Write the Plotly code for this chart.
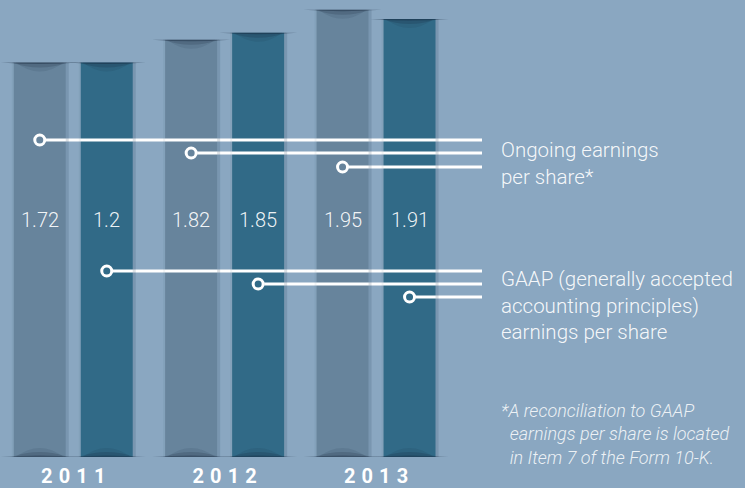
import plotly.graph_objects as go

# ---------------- data ----------------
years = ["2011", "2012", "2013"]
ongoing_eps = [1.72, 1.82, 1.95]          # grey bars / labels
gaap_eps_labels = ["1.2", "1.85", "1.91"]  # labels printed on teal bars
gaap_bar_heights = [1.72, 1.85, 1.91]      # teal bar heights as drawn
ongoing_labels = ["1.72", "1.82", "1.95"]

legend_ongoing = "Ongoing earnings<br>per share*"
legend_gaap = "GAAP (generally accepted<br>accounting principles)<br>earnings per share"
footnote = "*A reconciliation to GAAP<br>  earnings per share is located<br>  in Item 7 of the Form 10-K."

# ---------------- style / layout constants ----------------
W, H = 745, 488
PLOT_H = 457
BG = "#8aa7c1"
GREY = "#67849c"
TEAL = "#316a87"
TXT = "rgba(255,255,255,0.93)"
FONT = "Roboto"

X0PX, PITCH = 73.25, 151.4     # px of first group centre, px per group
PXU = 229.3                    # px per EPS unit
def xd(px):   # pixel -> x data
    return (px - X0PX) / PITCH
def yd(py):   # pixel -> y data
    return (PLOT_H - py) / PXU
PX = 1 / PITCH                 # one pixel in x data units
PY = 1 / PXU                   # one pixel in y data units

OFF = 33.5 * PX
BW = 52 * PX
idx = list(range(len(years)))
x_on = [i - OFF for i in idx]
x_ga = [i + OFF for i in idx]

fig = go.Figure()
fig.add_trace(go.Bar(x=x_on, y=ongoing_eps, width=BW, marker=dict(color=GREY, line=dict(width=0)),
                     hoverinfo="skip", showlegend=False))
fig.add_trace(go.Bar(x=x_ga, y=gaap_bar_heights, width=BW, marker=dict(color=TEAL, line=dict(width=0)),
                     hoverinfo="skip", showlegend=False))

shapes = []
def half_ell(cx, y0, a, depth, sign, col):
    return dict(type="path", xref="x", yref="y", layer="above",
                path=f"M {cx-a},{y0} Q {cx},{y0 + sign*2*depth} {cx+a},{y0} Z",
                fillcolor=col, line=dict(width=0))

for xs, ys in ((x_on, ongoing_eps), (x_ga, gaap_bar_heights)):
    for cx, top in zip(xs, ys):
        hw = BW / 2
        # side shadows
        shapes.append(dict(type="rect", xref="x", yref="y", layer="above",
                           x0=cx + hw, x1=cx + hw + 3 * PX, y0=0, y1=top,
                           fillcolor="rgba(40,60,85,0.16)", line=dict(width=0)))
        shapes.append(dict(type="rect", xref="x", yref="y", layer="above",
                           x0=cx - hw - 2 * PX, x1=cx - hw, y0=0, y1=top,
                           fillcolor="rgba(40,60,85,0.06)", line=dict(width=0)))
        # top shadow (below top edge)
        shapes.append(half_ell(cx, top, hw + 13 * PX, 1.5 * PY, -1, "rgba(20,35,55,0.40)"))
        shapes.append(half_ell(cx, top, hw + 2 * PX, 5 * PY, -1, "rgba(20,35,55,0.18)"))
        shapes.append(half_ell(cx, top, hw - 2 * PX, 9 * PY, -1, "rgba(20,35,55,0.10)"))
        # bottom shadow
        shapes.append(half_ell(cx, 0, hw + 13 * PX, 1.5 * PY, 1, "rgba(20,35,55,0.35)"))
        shapes.append(half_ell(cx, 0, hw + 2 * PX, 5 * PY, 1, "rgba(20,35,55,0.18)"))
        shapes.append(half_ell(cx, 0, hw - 2 * PX, 9 * PY, 1, "rgba(20,35,55,0.10)"))

# connector lines
LINE_END = xd(482)
R = 6 * PX
ong_line_px = [140, 153, 167]
gaap_line_px = [271, 284, 297]
for xs, lys in ((x_on, ong_line_px), (x_ga, gaap_line_px)):
    for cx, lp in zip(xs, lys):
        fig.add_trace(go.Scatter(x=[cx + R, LINE_END], y=[yd(lp), yd(lp)], mode="lines",
                                 line=dict(color="white", width=3), hoverinfo="skip", showlegend=False))
    fig.add_trace(go.Scatter(x=xs, y=[yd(p) for p in lys], mode="markers",
                             marker=dict(symbol="circle-open", size=10, color="white",
                                         line=dict(width=3, color="white")),
                             hoverinfo="skip", showlegend=False))

annotations = []
LABEL_Y = yd(220)
for cx, t in zip(x_on, ongoing_labels):
    annotations.append(dict(x=cx, y=LABEL_Y, xref="x", yref="y", text=t, showarrow=False,
                            font=dict(family=FONT, size=20, color=TXT, weight=300)))
for cx, t in zip(x_ga, gaap_eps_labels):
    annotations.append(dict(x=cx, y=LABEL_Y, xref="x", yref="y", text=t, showarrow=False,
                            font=dict(family=FONT, size=20, color=TXT, weight=300)))

annotations.append(dict(x=499 / W, y=1 - 163.5 / PLOT_H, xref="paper", yref="paper",
                        xanchor="left", yanchor="middle", align="left", showarrow=False,
                        text=legend_ongoing, font=dict(family=FONT, size=20.5, color=TXT, weight=300)))
annotations.append(dict(x=499 / W, y=1 - 305.5 / PLOT_H, xref="paper", yref="paper",
                        xanchor="left", yanchor="middle", align="left", showarrow=False,
                        text=legend_gaap, font=dict(family=FONT, size=20.5, color=TXT, weight=300)))
annotations.append(dict(x=499 / W, y=1 - 434 / PLOT_H, xref="paper", yref="paper",
                        xanchor="left", yanchor="middle", align="left", showarrow=False,
                        text=footnote, font=dict(family=FONT, size=18, color="rgba(255,255,255,0.85)",
                                                 style="italic", weight=300)))

fig.update_layout(
    width=W, height=H, margin=dict(l=0, r=0, t=0, b=H - PLOT_H, pad=0, autoexpand=False),
    paper_bgcolor=BG, plot_bgcolor=BG, barmode="overlay", showlegend=False,
    shapes=shapes, annotations=annotations,
    xaxis=dict(range=[xd(0), xd(W)], tickvals=idx,
               ticktext=["\u2009\u200a".join(y) for y in years],
               tickfont=dict(family=FONT, size=20, color="white", weight="bold"),
               ticks="outside", ticklen=1, tickcolor="rgba(0,0,0,0)", automargin=False,
               showgrid=False, zeroline=False, showline=False, fixedrange=True),
    yaxis=dict(range=[0, PLOT_H / PXU], visible=False, fixedrange=True, automargin=False),
)
fig.write_html("out.html", config={"displayModeBar": False},
               post_script="document.body.style.margin='0';document.body.style.overflow='hidden';")
